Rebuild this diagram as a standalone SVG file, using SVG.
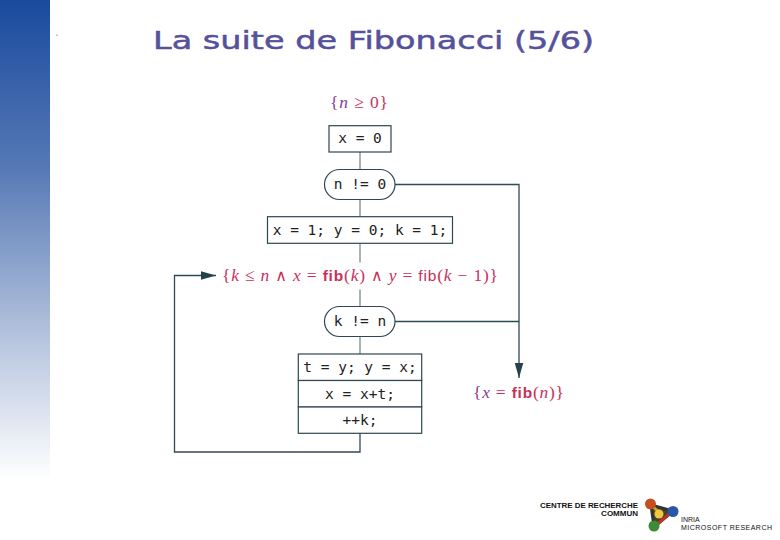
<svg xmlns="http://www.w3.org/2000/svg" width="780" height="540" viewBox="0 0 780 540">
<style>
.box{fill:#fff;stroke:#2f474f;stroke-width:1.2}
.code{font-family:"DejaVu Sans Mono","Liberation Mono",monospace;font-size:14.500px;fill:#222;text-anchor:middle;font-weight:500}
.conn{fill:none;stroke:#2f4a52;stroke-width:1.3}
.v{stroke:#7c8c90}
.m{font-family:"Liberation Serif",serif;font-size:17.500px;fill:#c8305c}
.i{font-style:italic}
.f{font-family:"Liberation Sans",sans-serif;font-size:15.500px}
.w{font-family:"DejaVu Sans",sans-serif;font-size:16px;font-weight:normal}
.p{fill:#8a3a96}
.t1{font-family:"DejaVu Sans",sans-serif;font-size:25px;fill:#55519b;stroke:#55519b;stroke-width:.5}
.lg{font-family:"Liberation Sans",sans-serif;fill:#111}
</style>
<defs>
<linearGradient id="side" x1="0" y1="0" x2="0" y2="1">
<stop offset="0" stop-color="#1a4a9e"/><stop offset=".35" stop-color="#5679b5"/><stop offset=".7" stop-color="#b4c3dd"/><stop offset="1" stop-color="#fff"/>
</linearGradient>
<marker id="ah" markerWidth="16" markerHeight="10" refX="15.500" refY="5" orient="auto" markerUnits="userSpaceOnUse"><path d="M0 .6L15.500 5L0 9.400z" fill="#24424c"/></marker>
</defs>
<rect width="780" height="540" fill="#fff"/>
<rect id="sidebar" width="50" height="480" fill="url(#side)"/>
<circle cx="57" cy="35" r=".6" fill="#333"/>
<text id="title" x="153" y="49" class="t1" textLength="441" lengthAdjust="spacingAndGlyphs">La suite de Fibonacci (5/6)</text>

<g id="connectors">
<path class="conn v" d="M360 152V169.500M360 199.500V216.700M360 243.300V262.500M360 289.500V306.500M360 336.500V354"/>
<path class="conn" d="M395 184.500H519V378" marker-end="url(#ah)"/>
<path class="conn" d="M395 321.500H519"/>
<path class="conn" d="M360 433.300V452H174.500V275.500H216" marker-end="url(#ah)"/>
</g>

<g id="pre"><text x="330" y="108" class="m" textLength="58"><tspan class="p">{</tspan><tspan class="i p">n</tspan> ≥ 0}</text></g>
<g id="n1"><rect class="box" x="329" y="125.700" width="62" height="26.300"/><text class="code" x="360" y="143">x = 0</text></g>
<g id="n2"><rect class="box" x="324.500" y="169.500" width="70.500" height="30" rx="15"/><text class="code" x="360" y="189">n != 0</text></g>
<g id="n3"><rect class="box" x="267.500" y="216.700" width="185" height="26.600"/><text class="code" x="360" y="235">x = 1; y = 0; k = 1;</text></g>
<g id="inv"><text x="222" y="281" class="m" textLength="276" lengthAdjust="spacing">{<tspan class="i">k</tspan> ≤ <tspan class="i">n</tspan> <tspan class="w">∧</tspan> <tspan class="i">x</tspan> = <tspan class="f" font-weight="bold">fib</tspan>(<tspan class="i">k</tspan>) <tspan class="w">∧</tspan> <tspan class="i">y</tspan> = <tspan class="f">fib</tspan>(<tspan class="i">k</tspan> − 1)}</text></g>
<g id="n4"><rect class="box" x="324.500" y="306.500" width="70.500" height="30" rx="15"/><text class="code" x="360" y="326">k != n</text></g>
<g id="n5">
<rect class="box" x="298.300" y="354" width="123.400" height="26.500"/><text class="code" x="360" y="372">t = y; y = x;</text>
<rect class="box" x="298.300" y="380.500" width="123.400" height="26.500"/><text class="code" x="360" y="399">x = x+t;</text>
<rect class="box" x="298.300" y="407" width="123.400" height="26.300"/><text class="code" x="360" y="425">++k;</text>
</g>
<g id="post"><text x="473" y="398" class="m" textLength="91" lengthAdjust="spacing"><tspan class="p">{</tspan><tspan class="i p">x</tspan> = <tspan class="f" font-weight="bold">fib</tspan>(<tspan class="i">n</tspan>)}</text></g>

<g id="logo">
<text class="lg" x="638" y="507.500" font-size="8" font-weight="bold" text-anchor="end" textLength="98" lengthAdjust="spacingAndGlyphs">CENTRE DE RECHERCHE</text>
<text class="lg" x="638" y="515.500" font-size="8" font-weight="bold" text-anchor="end">COMMUN</text>
<path d="M651 505L673 511L654 527z" fill="#4a4030" stroke="#333" stroke-width="3"/>
<path d="M651 505L661 514" stroke="#c8a02a" stroke-width="3"/>
<path d="M654 527L673 511" stroke="#b93a20" stroke-width="3"/>
<circle cx="650.500" cy="504" r="5.500" fill="#c5501f"/>
<circle cx="673" cy="511.500" r="5.500" fill="#2a56a8"/>
<circle cx="654" cy="526" r="5.500" fill="#3f8a35"/>
<circle cx="659" cy="514" r="4.500" fill="#f0c83c"/>
<text class="lg" x="681" y="521.500" font-size="7">INRIA</text>
<text class="lg" x="681" y="529.500" font-size="7" textLength="91">MICROSOFT RESEARCH</text>
</g>
</svg>
